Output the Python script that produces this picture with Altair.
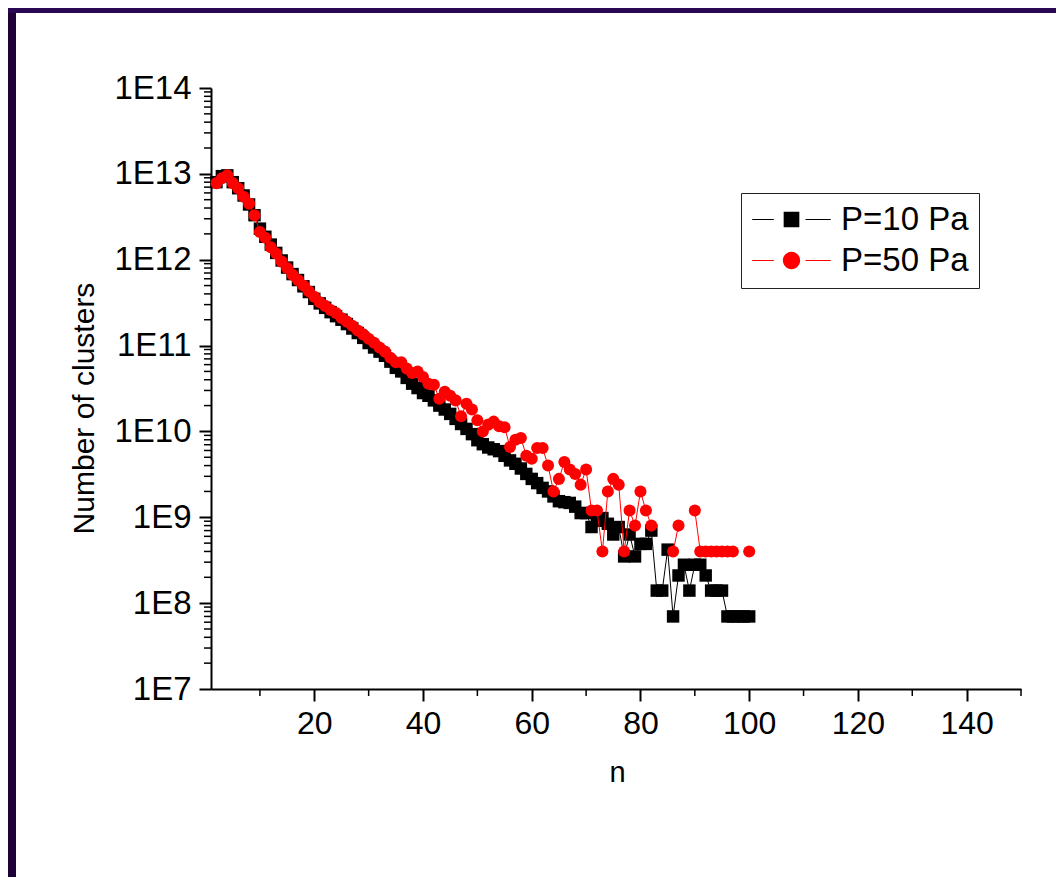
import altair as alt
import pandas as pd

# ---------------- data ----------------
n_values = list(range(2, 101))

p10_values = [
    8.0e12, 9.4e12, 9.6e12, 8.0e12, 6.8e12, 5.6e12, 4.4e12, 3.3e12, 2.3e12, 1.85e12,
    1.5e12, 1.2e12, 9.8e11, 8.1e11, 6.8e11, 5.8e11, 4.9e11, 4.2e11, 3.5e11, 3.1e11,
    2.75e11, 2.45e11, 2.2e11, 2.0e11, 1.78e11, 1.58e11, 1.4e11, 1.23e11, 1.07e11, 9.5e10,
    8.5e10, 7.6e10, 6.5e10, 5.5e10, 5.0e10, 4.2e10, 3.6e10, 3.2e10, 2.8e10, 2.6e10,
    2.3e10, 2.0e10, 1.8e10, 1.6e10, 1.4e10, 1.22e10, 1.07e10, 9.3e9, 7.9e9, 7.1e9,
    6.5e9, 6.2e9, 5.9e9, 5.2e9, 4.6e9, 4.2e9, 3.7e9, 3.2e9, 2.8e9, 2.5e9,
    2.2e9, 2.0e9, 1.75e9, 1.54e9, 1.5e9, 1.47e9, 1.33e9, 1.12e9, 1.12e9, 7.7e8,
    9.1e8, 9.8e8, 8.4e8, 6.3e8, 7.7e8, 3.5e8, 6.3e8, 3.5e8, 4.9e8, 4.9e8,
    7.0e8, 1.4e8, 1.4e8, 4.2e8, 7.0e7, 2.1e8, 2.8e8, 1.4e8, 2.8e8, 2.8e8,
    2.1e8, 1.4e8, 1.4e8, 1.4e8, 7.0e7, 7.0e7, 7.0e7, 7.0e7, 7.0e7,
]

p50_values = [
    7.8e12, 8.9e12, 9.6e12, 7.8e12, 6.8e12, 5.4e12, 4.5e12, 3.3e12, 2.1e12, 1.8e12,
    1.4e12, 1.18e12, 9.5e11, 8.0e11, 6.7e11, 5.8e11, 5.0e11, 4.3e11, 3.7e11, 3.2e11,
    2.9e11, 2.6e11, 2.4e11, 2.1e11, 1.9e11, 1.7e11, 1.5e11, 1.35e11, 1.2e11, 1.08e11,
    9.5e10, 8.5e10, 7.2e10, 6.4e10, 6.4e10, 5.4e10, 4.8e10, 5.0e10, 4.3e10, 3.6e10,
    3.5e10, 2.4e10, 2.9e10, 2.6e10, 2.3e10, 1.5e10, 2.1e10, 1.8e10, 1.35e10, 1.0e10,
    1.2e10, 1.3e10, 1.15e10, 1.12e10, 6.6e9, 8.0e9, 8.4e9, 5.2e9, 4.8e9, 6.4e9,
    6.4e9, 4.0e9, 2.0e9, 2.8e9, 4.4e9, 3.6e9, 3.2e9, 2.4e9, 3.6e9, 1.2e9,
    1.2e9, 4.0e8, 2.0e9, 2.8e9, 2.4e9, 4.0e8, 1.2e9, 8.0e8, 2.0e9, 1.2e9,
    8.0e8, None, None, None, 4.0e8, 8.0e8, None, None, 1.2e9, 4.0e8,
    4.0e8, 4.0e8, 4.0e8, 4.0e8, 4.0e8, 4.0e8, None, None, 4.0e8,
]

series_names = ["P=10 Pa", "P=50 Pa"]
series_colors = ["#000000", "#ff0000"]

x_major_ticks = [20, 40, 60, 80, 100, 120, 140]
x_minor_ticks = [10, 30, 50, 70, 90, 110, 130, 150]
y_major_ticks = [1e7, 1e8, 1e9, 1e10, 1e11, 1e12, 1e13, 1e14]
y_minor_mult = [2, 3, 4, 5, 6, 7, 8, 9]
y_minor_ticks = [m * d for d in y_major_ticks[:-1] for m in y_minor_mult]

df = pd.DataFrame({
    "n": n_values + n_values,
    "value": p10_values + p50_values,
    "series": [series_names[0]] * len(n_values) + [series_names[1]] * len(n_values),
})

# ---------------- layout ----------------
FONT = "Liberation Sans"
W, H = 810, 601
PAD_L, PAD_T = 203, 80
PAD_R = 1048 - PAD_L - W
PAD_B = 869 - PAD_T - H

xscale = alt.Scale(domain=[1, 150], nice=False, zero=False)
yscale = alt.Scale(type="log", domain=[1e7, 1e14], nice=False)

x_axis = alt.Axis(
    values=x_major_ticks, grid=False, tickSize=12, tickWidth=2, domainWidth=2,
    domainColor="black", tickColor="black", labelColor="black", labelFont=FONT,
    labelFontSize=32, labelPadding=7, labelFlush=False, labelOverlap=False,
    title="n", titleFont=FONT, titleFontSize=29, titleFontWeight="normal",
    titleColor="black", titleBaseline="alphabetic", titleY=92, titleX=W / 2 + 1,
)
y_axis = alt.Axis(
    values=y_major_ticks, grid=False, tickSize=12, tickWidth=2, domainWidth=2,
    domainColor="black", tickColor="black", labelColor="black", labelFont=FONT,
    labelFontSize=33, labelPadding=8, labelOverlap=False, labelFlush=False,
    labelExpr="'1E' + round(log(datum.value) / LN10)",
    title="Number of clusters", titleFont=FONT, titleFontSize=30,
    titleFontWeight="normal", titleColor="black", titleAngle=270,
    titleBaseline="middle", titleAlign="center", titleX=-127, titleY=320,
)

X = alt.X("n:Q", scale=xscale, axis=x_axis)
Y = alt.Y("value:Q", scale=yscale, axis=y_axis)

base = alt.Chart(df)

def series_layers(name, color, shape, size):
    sub = base.transform_filter(alt.datum.series == name)
    line = sub.mark_line(color=color, strokeWidth=1, invalid="break-paths-filter-domains").encode(x=X, y=Y)
    pts = sub.mark_point(shape=shape, filled=True, color=color, opacity=1, size=size,
                         strokeWidth=0).encode(x=X, y=Y)
    return [line, pts]

layers_black = series_layers(series_names[0], series_colors[0], "square", 155)
layers_red = series_layers(series_names[1], series_colors[1], "circle", 145)

# legend symbols: line - marker - line (custom paths, unit = 8 px)
PATH_SQ = ("M-1.91,-0.0625H0.79V0.0625H-1.91Z M4.75,-0.0625H7.9V0.0625H4.75Z "
           "M2.02,-0.98H3.98V0.98H2.02Z")
PATH_CI = ("M-1.91,-0.0625H0.79V0.0625H-1.91Z M4.75,-0.0625H7.9V0.0625H4.75Z "
           "M1.92,0A1.08,1.08,0,1,0,4.08,0A1.08,1.08,0,1,0,1.92,0Z")

legend = alt.Legend(
    title=None, orient="none", legendX=530, legendY=105,
    symbolSize=256, symbolStrokeWidth=0, symbolOpacity=1,
    labelFont=FONT, labelFontSize=33, labelColor="black", labelOffset=57,
    padding=10, rowPadding=7, strokeColor="#222222", fillColor="white",
    labelLimit=400,
)
legend_layer = base.transform_filter("false").mark_point(filled=True, opacity=1).encode(
    x=X, y=Y,
    color=alt.Color("series:N", scale=alt.Scale(domain=series_names, range=series_colors), legend=legend),
    shape=alt.Shape("series:N", scale=alt.Scale(domain=series_names, range=[PATH_SQ, PATH_CI]), legend=legend),
)

# minor ticks
ymin = alt.Chart(pd.DataFrame({"v": y_minor_ticks})).mark_rule(color="black", strokeWidth=1.5).encode(
    y=alt.Y("v:Q", scale=yscale, axis=y_axis), x=alt.value(0), x2=alt.value(-7))
xmin = alt.Chart(pd.DataFrame({"v": x_minor_ticks})).mark_rule(color="black", strokeWidth=1.5).encode(
    x=alt.X("v:Q", scale=xscale, axis=x_axis), y=alt.value(H), y2=alt.value(H + 7))

# purple slide frame
one = pd.DataFrame({"k": [0]})
left_strip = alt.Chart(one).mark_rect(color="#1c0236").encode(
    x=alt.value(-PAD_L), x2=alt.value(-PAD_L + 8), y=alt.value(-PAD_T), y2=alt.value(H + PAD_B))
top_strip = alt.Chart(one).mark_rect(color="#2a0854").encode(
    x=alt.value(-PAD_L), x2=alt.value(W + PAD_R), y=alt.value(-PAD_T), y2=alt.value(-PAD_T + 5))

chart = alt.layer(
    *layers_black, *layers_red, legend_layer, ymin, xmin, left_strip, top_strip,
).properties(
    width=W, height=H,
    autosize=alt.AutoSizeParams(type="none"),
    padding={"left": PAD_L, "top": PAD_T, "right": PAD_R, "bottom": PAD_B},
    background="white",
).configure(font=FONT).configure_view(stroke=None)

chart.save("out.html", embed_options={"renderer": "svg", "actions": False})
